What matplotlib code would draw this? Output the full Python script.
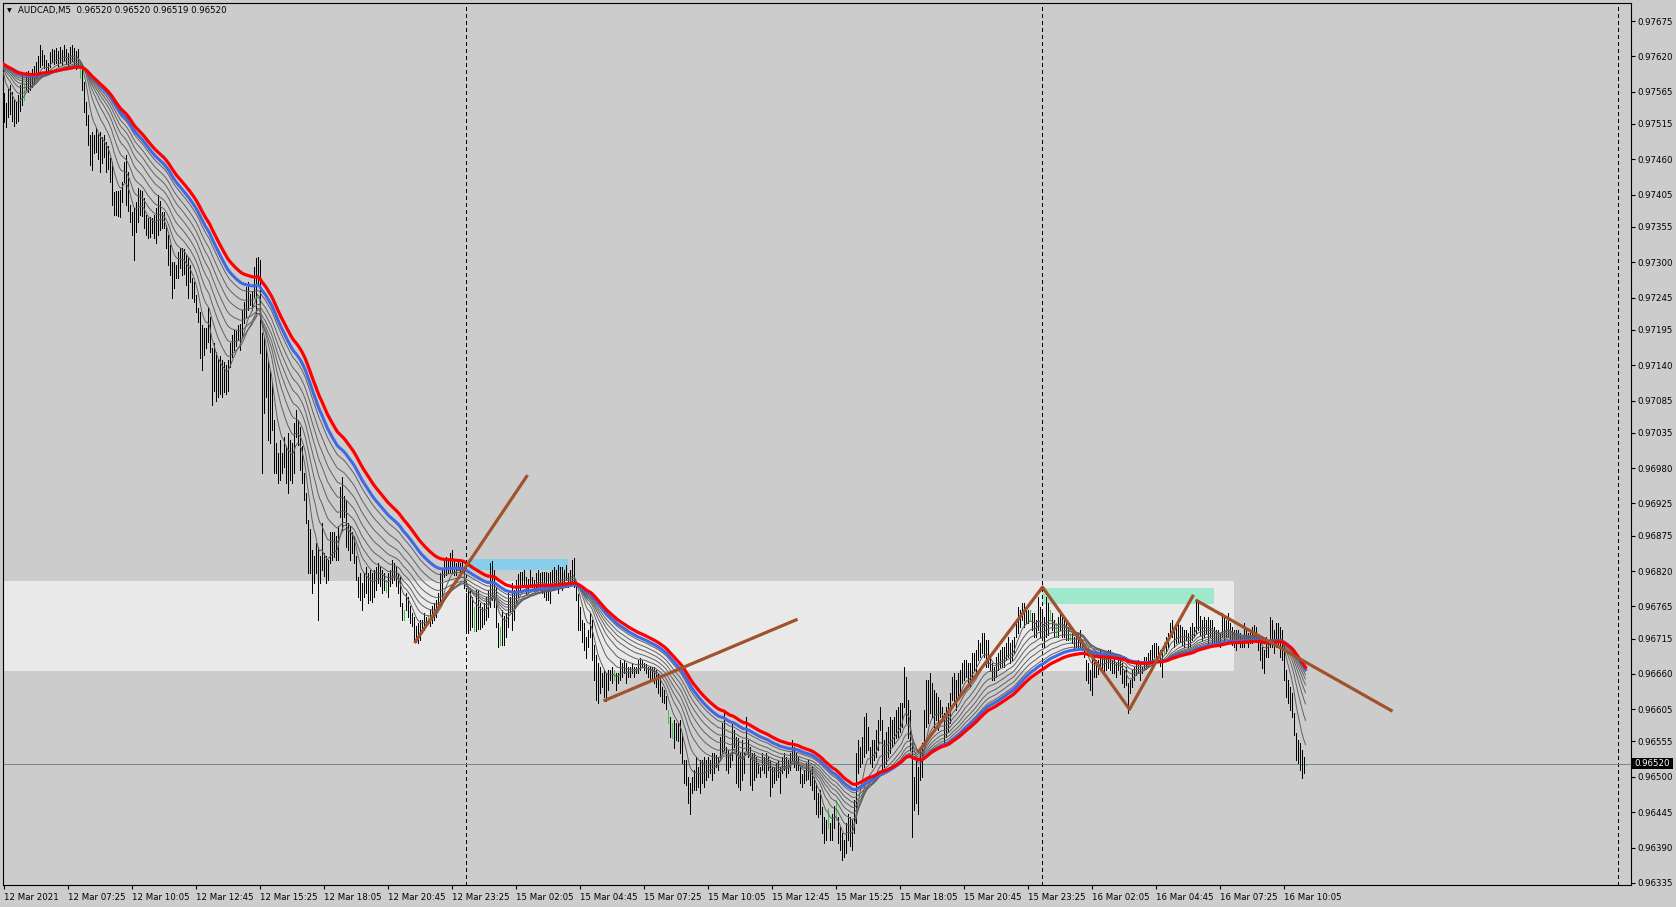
import numpy as np
import matplotlib
matplotlib.use("Agg")
import matplotlib.pyplot as plt
from matplotlib.collections import LineCollection
from matplotlib.patches import Rectangle

# ---------------- data ----------------
SYMBOL = "AUDCAD,M5"
LAST_OHLC = [0.96520, 0.96520, 0.96519, 0.96520]
BID = 0.96520
BASE = 0.96          # price = BASE + points * 1e-5

HIGH_PTS = [
 1563,1548,1570,1575,1565,1552,1549,1560,1575,1590,
 1578,1595,1598,1590,1600,1605,1612,1620,1638,1630,
 1622,1614,1610,1627,1632,1630,1633,1628,1635,1630,
 1637,1632,1625,1634,1638,1633,1628,1632,1614,1603,
 1580,1549,1529,1498,1502,1498,1509,1500,1502,1495,
 1498,1487,1480,1462,1456,1409,1411,1410,1412,1425,
 1456,1467,1440,1389,1378,1384,1394,1415,1413,1410,
 1400,1373,1368,1370,1368,1373,1384,1404,1395,1378,
 1378,1358,1342,1327,1300,1300,1296,1316,1322,1322,
 1320,1311,1306,1296,1275,1269,1249,1229,1223,1202,
 1198,1198,1229,1215,1167,1175,1160,1150,1155,1148,
 1145,1140,1148,1174,1187,1195,1193,1202,1204,1226,
 1238,1261,1269,1250,1256,1293,1306,1308,1303,1190,
 1184,1168,1148,1132,1112,1055,1019,1003,1024,1003,
 1028,1014,1034,1024,1019,1050,1070,1055,1044,1014,
 972,941,899,885,853,843,863,857,843,895,
 848,843,837,880,880,880,875,890,951,966,
 936,930,895,890,880,875,843,811,817,801,
 817,827,817,822,817,822,827,832,827,822,
 817,806,817,822,837,832,827,817,811,770,
 760,786,780,765,755,749,734,739,744,744,
 755,749,752,760,765,770,775,786,817,
 822,837,842,837,848,853,837,832,837,832,835,826,
 786,795,790,780,764,790,790,770,764,770,
 780,790,832,835,822,795,739,733,760,750,
 755,786,780,801,790,806,815,819,819,822,
 811,808,822,811,806,817,822,817,819,819,
 819,817,819,822,826,822,829,826,826,822,
 829,817,822,837,840,801,785,764,744,739,
 717,728,754,744,705,690,677,671,661,666,
 661,666,666,671,666,661,661,682,677,682,
 677,671,671,677,671,671,682,685,682,677,
 675,671,671,671,671,666,660,655,
 640,635,625,604,593,584,588,584,584,588,
 568,526,526,500,490,500,510,531,515,526,
 526,531,526,531,526,537,537,534,531,562,
 584,599,546,542,537,584,573,562,560,537,
 557,537,593,557,546,537,537,531,521,515,
 537,531,537,531,526,515,515,521,526,515,
 531,537,531,526,537,557,546,537,531,515,
 505,511,521,526,511,515,500,490,475,480,
 453,437,433,451,428,443,455,464,437,422,
 413,402,428,443,437,433,464,537,557,546,
 562,593,599,577,546,557,557,573,588,609,
 588,557,570,577,593,588,593,604,609,615,
 615,671,655,620,604,553,500,531,515,542,553,604,651,
 651,661,646,635,630,624,619,609,599,609,
 615,630,655,661,651,661,666,677,682,682,
 677,677,692,692,697,713,708,723,723,713,
 713,686,677,671,686,692,697,702,702,708,
 717,708,713,717,744,764,759,770,770,759,
 759,759,754,754,744,780,764,754,748,780,
 770,759,754,744,739,748,759,754,744,739,
 733,723,723,717,723,723,728,713,708,682,
 677,666,686,686,682,682,697,692,686,692,
 697,697,682,686,677,686,682,677,666,671,
 646,651,666,671,677,682,677,671,686,686,
 692,697,705,708,708,703,697,692,710,717,
 723,739,744,733,733,739,736,733,728,728,
 723,733,739,733,775,770,750,744,748,744,
 748,744,744,733,728,728,723,754,748,744,
 754,739,733,728,728,728,723,717,739,728,
 723,728,733,736,733,717,717,702,697,717,
 713,748,744,728,739,739,733,728,708,666,
 651,640,630,600,568,557,553,542,531,520,
]

LOW_PTS = [
 1518,1510,1525,1530,1520,1512,1516,1520,1535,1545,
 1552,1570,1565,1568,1572,1578,1585,1590,1603,1607,
 1602,1591,1595,1603,1612,1608,1610,1605,1612,1606,
 1614,1608,1603,1610,1613,1607,1600,1605,1586,1568,
 1534,1513,1482,1451,1443,1470,1471,1460,1440,1455,
 1463,1440,1445,1425,1389,1373,1373,1372,1370,1394,
 1425,1389,1380,1363,1342,1303,1347,1363,1373,1372,
 1353,1342,1337,1340,1345,1337,1330,1342,1350,1353,
 1353,1322,1296,1280,1244,1260,1275,1275,1291,1280,
 1282,1265,1244,1269,1244,1238,1223,1207,1151,1132,
 1156,1166,1176,1160,1078,1100,1085,1090,1095,1090,
 1098,1095,1100,1137,1153,1164,1170,1179,1164,1184,
 1205,1215,1226,1233,1225,1246,1221,1268,1159,972,
 1066,1090,1024,1019,1039,972,972,957,962,972,
 982,957,941,962,957,972,1028,1016,977,957,
 930,895,817,817,786,801,817,744,801,822,
 812,801,806,832,837,842,837,837,904,884,
 904,857,853,837,848,832,806,780,775,760,
 780,786,770,775,772,780,790,801,796,786,
 790,788,780,796,801,806,796,786,765,744,
 744,760,749,739,734,713,710,708,713,723,
 728,734,739,734,739,744,749,760,770,
 775,811,814,817,817,819,814,814,822,811,817,794,
 723,723,728,733,727,727,730,730,733,738,
 744,748,764,775,764,733,702,705,705,705,
 717,733,756,728,744,770,780,790,795,795,
 785,786,795,795,790,790,795,790,786,780,
 775,775,770,790,790,795,786,795,790,795,
 806,795,800,801,795,775,728,728,710,697,
 685,702,717,682,651,620,615,630,640,624,
 618,635,651,646,651,635,646,651,655,661,
 646,655,655,661,655,661,661,666,671,666,
 661,655,651,651,646,640,630,625,
 616,615,605,584,562,561,545,557,555,537,
 521,490,487,460,443,475,480,480,485,475,
 490,484,495,500,506,495,506,515,511,526,
 537,542,511,506,515,526,546,490,484,480,
 495,506,542,531,487,480,495,500,506,500,
 511,506,500,511,470,484,490,495,500,475,
 506,511,500,506,511,526,515,511,511,490,
 484,490,495,497,487,480,465,443,437,443,
 413,397,402,420,402,402,420,433,397,386,
 371,375,382,402,392,386,413,428,506,515,
 521,531,537,542,521,515,526,531,542,573,
 506,515,520,531,537,546,553,560,562,570,
 577,609,584,560,542,406,448,459,443,495,500,546,577,
 584,599,593,577,588,573,593,588,553,562,
 570,584,619,615,604,619,624,646,651,655,
 640,640,655,666,661,682,686,692,686,671,
 671,666,651,651,655,666,671,671,671,682,
 686,677,682,692,717,723,733,744,733,739,
 739,744,728,717,717,728,717,713,702,717,
 720,744,728,717,717,717,728,717,717,713,
 713,713,708,697,702,697,702,697,686,651,
 646,635,628,655,655,660,666,661,661,666,
 670,666,661,661,655,666,660,646,640,643,
 599,630,640,651,658,661,651,661,666,668,
 673,681,666,686,677,686,672,655,692,692,
 702,717,717,702,708,710,710,705,702,713,
 702,702,713,717,723,728,720,713,717,723,
 708,717,710,705,710,708,702,717,713,717,
 717,710,705,702,697,708,702,702,702,708,
 702,708,708,713,710,697,682,670,661,686,
 686,702,702,692,702,702,686,682,651,624,
 615,604,593,565,526,521,511,498,506,519,
]

GREEN_BARS = [10, 38, 191, 200, 212, 235, 248, 305, 332, 334, 412, 416,
              513, 523, 526, 533, 580, 651]

TIME_LABELS = ["12 Mar 2021", "12 Mar 07:25", "12 Mar 10:05", "12 Mar 12:45",
               "12 Mar 15:25", "12 Mar 18:05", "12 Mar 20:45", "12 Mar 23:25",
               "15 Mar 02:05", "15 Mar 04:45", "15 Mar 07:25", "15 Mar 10:05",
               "15 Mar 12:45", "15 Mar 15:25", "15 Mar 18:05", "15 Mar 20:45",
               "15 Mar 23:25", "16 Mar 02:05", "16 Mar 04:45", "16 Mar 07:25",
               "16 Mar 10:05"]
BARS_PER_LABEL = 32

PRICE_TICKS = [0.97675, 0.97620, 0.97565, 0.97515, 0.97460, 0.97405, 0.97355,
               0.97300, 0.97245, 0.97195, 0.97140, 0.97085, 0.97035, 0.96980,
               0.96925, 0.96875, 0.96820, 0.96765, 0.96715, 0.96660, 0.96605,
               0.96555, 0.96500, 0.96445, 0.96390, 0.96335]

DAY_START_BARS = [231, 519, 807]   # 15 Mar, 16 Mar, 17 Mar 00:00

# chart objects (bar index, price)
ZONE = [-10, 615, 0.96665, 0.96805]
BLUE_BOX = [232, 282, 0.96821, 0.96839]
GREEN_BOX = [519, 605, 0.96768, 0.96793]
TREND_1 = [(205.5, 0.96708), (262.0, 0.96969)]
TREND_2 = [(300.0, 0.96618), (397.0, 0.96745)]
ZIGZAG = [(457.0, 0.96537), (519.5, 0.96795), (563.0, 0.96605), (595.0, 0.96783)]
TREND_3 = [(596.0, 0.96775), (694.5, 0.96602)]

GREY_PERIODS = [8, 15, 22, 29, 36, 43, 50, 57]
BLUE_PERIOD = 62
RED_PERIOD = 70
MA_SEED_PTS = 1610

# ---------------- styling ----------------
W, H = 1676, 907
BG = "#cccccc"
ZONE_C = "#e9e9e9"
FONT = "DejaVu Sans"
PX = 0.72  # one pixel in points at 100 dpi

high = BASE + np.array(HIGH_PTS) * 1e-5
low = BASE + np.array(LOW_PTS) * 1e-5
n = len(high)
assert len(low) == n, (len(high), len(low))
idx = np.arange(n)
median = (high + low) / 2.0


def ema(values, period, seed):
    a = 2.0 / (period + 1.0)
    out = np.empty_like(values)
    prev = seed
    for k, v in enumerate(values):
        prev = prev + a * (v - prev)
        out[k] = prev
    return out


seed = BASE + MA_SEED_PTS * 1e-5

fig = plt.figure(figsize=(W / 100, H / 100), dpi=100, facecolor=BG)
ax_l, ax_r, ax_t, ax_b = 2.5, 1630.5, 2.5, 885.0
ax = fig.add_axes([ax_l / W, 1 - ax_b / H, (ax_r - ax_l) / W, (ax_b - ax_t) / H])
ax.set_facecolor(BG)

# bar i centred on pixel column 3 + 2*i
ax.set_xlim((ax_l - 3.5) / 2.0, (ax_r - 3.5) / 2.0)
ppu = 64327.0  # pixels per price unit
ax.set_ylim(0.96335 - (ax_b - 883) / ppu, 0.97675 + (21 - ax_t) / ppu)

# zone rectangles
ax.add_patch(Rectangle((ZONE[0], ZONE[2]), ZONE[1] - ZONE[0], ZONE[3] - ZONE[2],
                       facecolor=ZONE_C, edgecolor="none", zorder=1))
ax.add_patch(Rectangle((BLUE_BOX[0], BLUE_BOX[2]), BLUE_BOX[1] - BLUE_BOX[0],
                       BLUE_BOX[3] - BLUE_BOX[2], facecolor="#87ceeb",
                       edgecolor="none", zorder=1.5))
ax.add_patch(Rectangle((GREEN_BOX[0], GREEN_BOX[2]), GREEN_BOX[1] - GREEN_BOX[0],
                       GREEN_BOX[3] - GREEN_BOX[2], facecolor="#a0e8cc",
                       edgecolor="none", zorder=1.5))

# day separators
for d in DAY_START_BARS:
    ax.axvline(d, color="black", lw=PX, ls=(0, (3, 3)), zorder=2,
               antialiased=False)

# bid line
ax.axhline(BID, color="#778899", lw=PX, zorder=2.5, antialiased=False)

# bars
green = set(GREEN_BARS)
cols = ["#32cd32" if k in green else "black" for k in idx]
segs = [[(k, low[k]), (k, high[k])] for k in idx]
ax.add_collection(LineCollection(segs, colors=cols, linewidths=PX,
                                 antialiased=False, zorder=3))

# moving averages on median price
for p in GREY_PERIODS:
    ax.plot(idx, ema(median, p, seed), color="#606060", lw=0.7, zorder=4)
ax.plot(idx, ema(median, BLUE_PERIOD, seed), color="#4169e1", lw=2.2, zorder=5)
ax.plot(idx, ema(median, RED_PERIOD, seed), color="#ff0000", lw=2.3, zorder=6)

# trend lines
brown = "#a0522d"
for line in (TREND_1, TREND_2, ZIGZAG, TREND_3):
    xs, ys = zip(*line)
    ax.plot(xs, ys, color=brown, lw=2.3, zorder=7, solid_capstyle="butt")

# axes styling
for s in ax.spines.values():
    s.set_color("black")
    s.set_linewidth(0.8)
ax.yaxis.tick_right()
ax.set_yticks(PRICE_TICKS)
ax.set_yticklabels([f"{v:.5f}" for v in PRICE_TICKS], fontsize=6.2, family=FONT)
ax.set_xticks([BARS_PER_LABEL * k for k in range(len(TIME_LABELS))])
ax.set_xticklabels(TIME_LABELS, fontsize=6.2, family=FONT, ha="left")
ax.tick_params(axis="both", direction="out", length=3, width=0.8, color="black",
               labelcolor="black", pad=2)
ax.tick_params(axis="x", pad=2.5)

# bid price label on axis
fig.patches.append(Rectangle((1632 / W, 1 - 769 / H), 41 / W, 11 / H,
                             transform=fig.transFigure, facecolor="black",
                             edgecolor="none", zorder=10))
fig.text(1634 / W, 1 - 763.5 / H, f"{BID:.5f}", color="white", fontsize=6.2,
         family=FONT, va="center", ha="left", zorder=11)

# header
fig.text(7 / W, 1 - 11 / H, "\u25bc", fontsize=4.5, family=FONT, va="center",
         ha="left")
hdr = SYMBOL + "  " + " ".join(f"{v:.5f}" for v in LAST_OHLC)
fig.text(18 / W, 1 - 11 / H, hdr, fontsize=6.2, family=FONT, va="center", ha="left")

fig.savefig("out.png", dpi=100, facecolor=BG)
